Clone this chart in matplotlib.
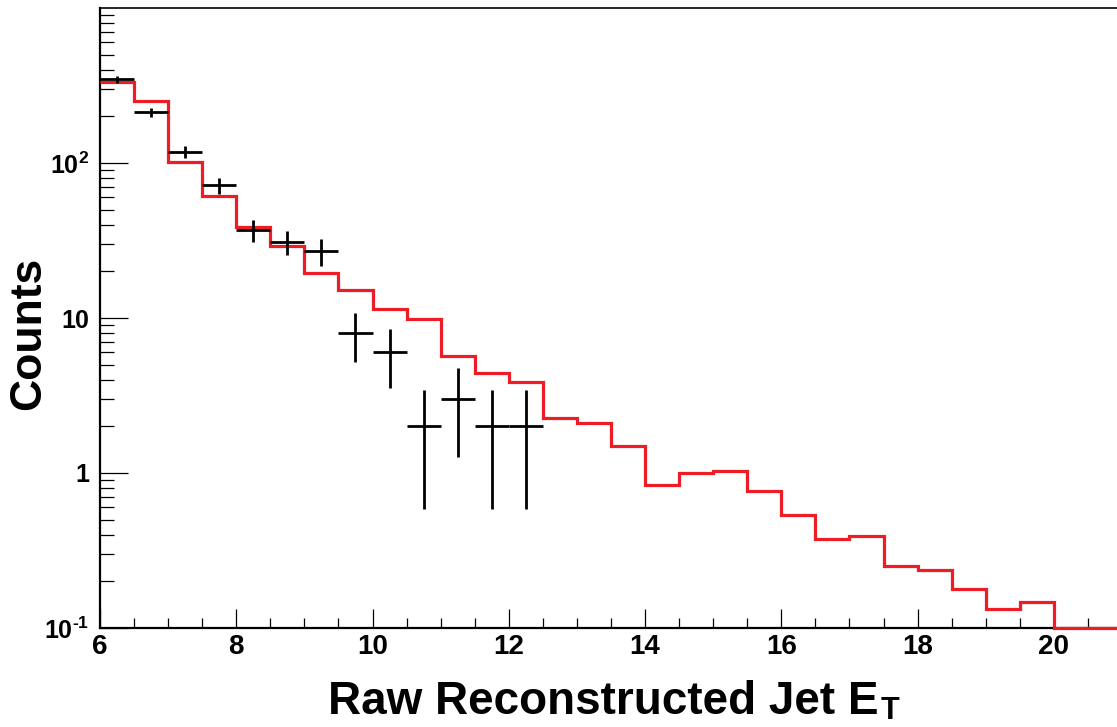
import numpy as np
import matplotlib
matplotlib.use("Agg")
import matplotlib.pyplot as plt
from matplotlib.ticker import FixedLocator, NullFormatter

# ---- data ----
bin_edges = np.arange(6.0, 21.01, 0.5)
mc_counts = [333, 251, 101, 61, 38.7, 29, 19.5, 15.2, 11.4, 9.86,
             5.69, 4.42, 3.87, 2.28, 2.10, 1.49, 0.84, 1.0, 1.03, 0.765,
             0.536, 0.375, 0.392, 0.251, 0.237, 0.178, 0.133, 0.147, 0.1, 0.1]
data_x = [6.25, 6.75, 7.25, 7.75, 8.25, 8.75, 9.25, 9.75, 10.25, 10.75, 11.25, 11.75, 12.25]
data_counts = [347, 213, 118, 72, 37, 31, 27, 8, 6, 2, 3, 2, 2]
xtick_vals = [6, 8, 10, 12, 14, 16, 18, 20]
ytick_vals = [0.1, 1, 10, 100]
ytick_labels = ["$10^{\u20101}$", "1", "10", r"$10^{2}$"]

plt.rcParams['font.family'] = ['Liberation Sans', 'DejaVu Sans']
plt.rcParams['font.weight'] = 'bold'
plt.rcParams['mathtext.fontset'] = 'custom'
plt.rcParams['mathtext.rm'] = 'Liberation Sans:bold'
plt.rcParams['mathtext.it'] = 'Liberation Sans:bold'
plt.rcParams['mathtext.bf'] = 'Liberation Sans:bold'
plt.rcParams['mathtext.default'] = 'rm'

W, H = 1117, 727
fig = plt.figure(figsize=(W / 100, H / 100), dpi=100)
left, right, top, bottom = 100, 1122, 8, 628
ax = fig.add_axes([left / W, 1 - bottom / H, (right - left) / W, (bottom - top) / H])

ax.stairs(mc_counts, bin_edges, baseline=None, color='#ee1c25', linewidth=2.3, clip_on=False, zorder=3)

data_counts = np.array(data_counts, dtype=float)
err = np.sqrt(data_counts)
ax.errorbar(data_x, data_counts, xerr=0.25, yerr=err, fmt='none', ecolor='black',
            elinewidth=2.0, capsize=0, zorder=4)

ax.set_yscale('log')
ax.set_xlim(6, 21)
ax.set_ylim(0.1, 1000)

ax.xaxis.set_major_locator(FixedLocator(xtick_vals))
ax.xaxis.set_minor_locator(FixedLocator(np.arange(6, 21.01, 0.5)))
ax.set_xticklabels([str(v) for v in xtick_vals])
ax.yaxis.set_major_locator(FixedLocator(ytick_vals))
ax.set_yticklabels(ytick_labels)
minors = [m * 10.0 ** e for e in range(-1, 3) for m in range(2, 10)]
ax.yaxis.set_minor_locator(FixedLocator(minors))
ax.yaxis.set_minor_formatter(NullFormatter())

ax.tick_params(axis='both', which='both', direction='in', top=False, right=False, width=0.9)
ax.tick_params(axis='y', which='major', length=20, pad=8, labelsize=18)
ax.tick_params(axis='y', which='minor', length=10)
ax.tick_params(axis='x', which='major', length=13.5, pad=4, labelsize=20)
ax.tick_params(axis='x', which='minor', length=7.2)
for lab in ax.get_xticklabels() + ax.get_yticklabels():
    lab.set_fontweight('bold')

for s in ['left', 'bottom']:
    ax.spines[s].set_linewidth(1.6)
ax.spines['top'].set_linewidth(1.2)
ax.spines['right'].set_visible(False)

title = fig.text(328 / W, 1 - 714 / H, "Raw Reconstructed Jet E", ha='left',
                 va='baseline', fontsize=33, fontweight='bold')
fig.canvas.draw()
bb = title.get_window_extent(fig.canvas.get_renderer())
fig.text((bb.x1 + 2) / W, 1 - 726 / H, "T", ha='left', va='bottom',
         fontsize=22, fontweight='bold')
fig.text(29 / W, 1 - 333 / H, "Counts", rotation=90, ha='center', va='center',
         fontsize=32, fontweight='bold')

fig.savefig("out.png", dpi=100)
